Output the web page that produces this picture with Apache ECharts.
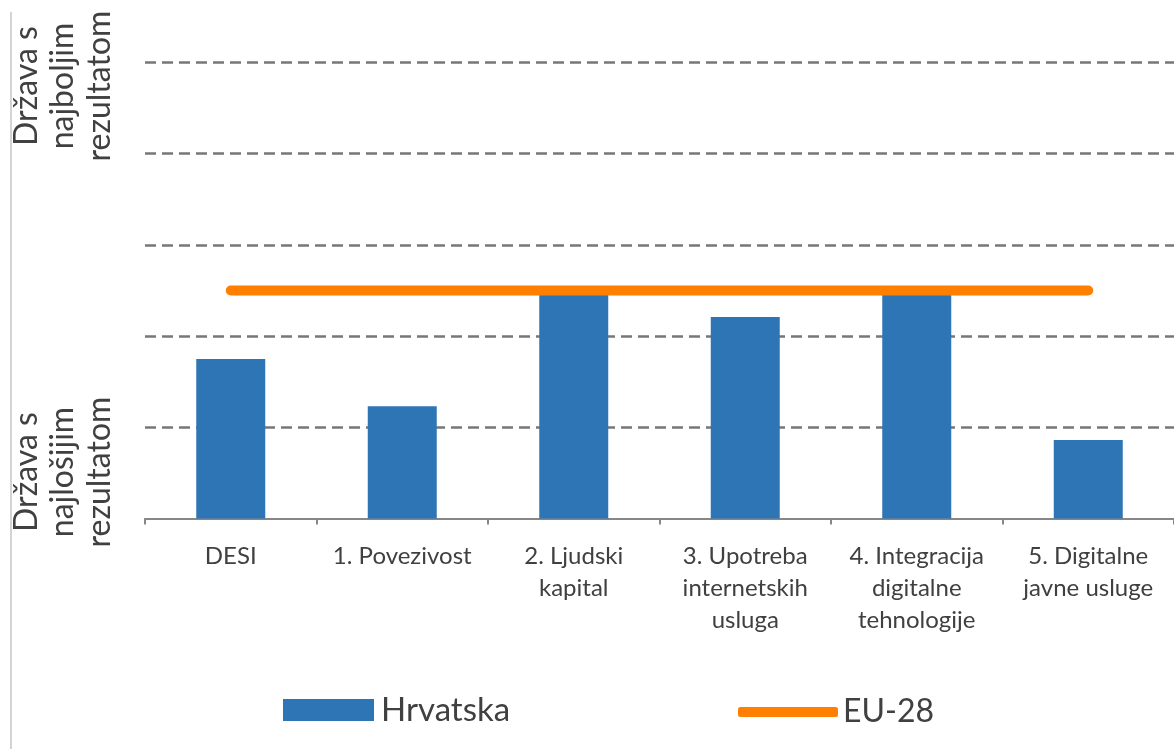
<!DOCTYPE html>
<html>
<head>
<meta charset="utf-8">
<script src="https://cdn.jsdelivr.net/npm/echarts@6/dist/echarts.min.js"></script>
<style>
  html, body { margin: 0; padding: 0; background: #fff; }
  #main { width: 1174px; height: 749px; }
</style>
</head>
<body>
<div id="main"></div>
<script>
  // kategorije i vrijednosti (relativni položaj, 0 = najlošija, 5 = najbolja)
  var categories = ['DESI', '1. Povezivost', '2. Ljudski\nkapital', '3. Upotreba\ninternetskih\nusluga', '4. Integracija\ndigitalne\ntehnologije', '5. Digitalne\njavne usluge'];
  var hrvatska = [1.75, 1.23, 2.46, 2.21, 2.46, 0.86];
  var eu28 = [2.5, 2.5, 2.5, 2.5, 2.5, 2.5];
  var axisLabels = ['Država s\nnajboljim\nrezultatom', 'Država s\nnajlošijim\nrezultatom'];

  var myChart = echarts.init(document.getElementById('main'));
  var font = 'Lato';
  var option = {
    animation: false,
    grid: {
      left: 145,
      right: 0,
      top: 62.5,
      bottom: 230.5
    },
    xAxis: {
      type: 'category',
      data: categories,
      axisLine: { lineStyle: { color: '#878787', width: 2 } },
      axisTick: { show: true, length: 6, lineStyle: { color: '#878787', width: 2 } },
      axisLabel: {
        interval: 0,
        margin: 22,
        fontFamily: font,
        fontSize: 24,
        lineHeight: 32,
        color: '#404040'
      }
    },
    yAxis: {
      type: 'value',
      min: 0,
      max: 5,
      interval: 1,
      axisLabel: { show: false },
      axisLine: { show: false },
      axisTick: { show: false },
      splitLine: { showMinLine: false, lineStyle: { color: '#777777', width: 2.5, type: [11, 6] } }
    },
    legend: [
      {
        data: ['Hrvatska'],
        left: 278,
        top: 688,
        itemWidth: 91,
        itemHeight: 22,
        icon: 'rect',
        textStyle: { fontFamily: font, fontSize: 33, lineHeight: 34, color: '#404040', padding: [0, 0, 0, 2] }
      },
      {
        data: ['EU-28'],
        left: 733,
        top: 690,
        itemWidth: 100,
        itemHeight: 10,
        icon: 'roundRect',
        textStyle: { fontFamily: font, fontSize: 32, lineHeight: 34, color: '#404040' }
      }
    ],
    graphic: [
      {
        type: 'line',
        shape: { x1: 11, y1: 12, x2: 11, y2: 749 },
        style: { stroke: '#d4d4d4', lineWidth: 2 }
      },
      {
        type: 'text',
        x: 63, y: 86,
        rotation: Math.PI / 2,
        style: {
          text: axisLabels[0], fontFamily: font, fontSize: 32, lineHeight: 36.5,
          fill: '#404040', align: 'center', verticalAlign: 'middle'
        }
      },
      {
        type: 'text',
        x: 63, y: 472,
        rotation: Math.PI / 2,
        style: {
          text: axisLabels[1], fontFamily: font, fontSize: 32, lineHeight: 36.5,
          fill: '#404040', align: 'center', verticalAlign: 'middle'
        }
      }
    ],
    series: [
      {
        name: 'Hrvatska',
        type: 'bar',
        barWidth: 69,
        data: hrvatska,
        itemStyle: { color: '#2E75B6' }
      },
      {
        name: 'EU-28',
        type: 'line',
        data: eu28,
        symbol: 'none',
        z: 3,
        itemStyle: { color: '#FF7F00' },
        lineStyle: { color: '#FF7F00', width: 10, cap: 'round' }
      }
    ]
  };
  myChart.setOption(option);
</script>
</body>
</html>
